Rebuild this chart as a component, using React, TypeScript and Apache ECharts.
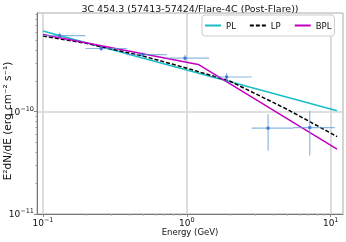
import React, { useEffect, useRef } from "react";
import * as echarts from "echarts";

// Measured SED points (GeV, erg cm^-2 s^-1)
const energy = [0.1307, 0.254, 0.494, 0.971, 1.89, 3.67, 7.15];
const flux = [5.52e-10, 4.14e-10, 3.6e-10, 3.33e-10, 2.18e-10, 6.9e-11, 6.99e-11];
const energyLow = [0.1, 0.197, 0.383, 0.725, 1.447, 2.82, 5.48];
const energyHigh = [0.197, 0.383, 0.725, 1.43, 2.82, 5.48, 10.66];
const fluxLow = [5.2e-10, 3.9e-10, 3.4e-10, 3.1e-10, 1.97e-10, 4.16e-11, 3.72e-11];
const fluxHigh = [5.9e-10, 4.35e-10, 3.8e-10, 3.6e-10, 2.38e-10, 9.45e-11, 1.02e-10];

// Model curves
const plEnergy = [0.1, 11.06];
const plFlux = [6.13e-10, 1.02e-10];
const lpEnergy = [0.1, 0.2, 0.5, 1, 2, 5, 11.06];
const lpFlux = [5.48e-10, 4.65e-10, 3.48e-10, 2.66e-10, 1.98e-10, 1.05e-10, 5.71e-11];
const bplEnergy = [0.1, 1.2, 11.06];
const bplFlux = [5.68e-10, 2.89e-10, 4.3e-11];

// Axes
const xMajor = [0.1, 1, 10];
const xMinor = [0.2, 0.3, 0.4, 0.5, 0.6, 0.7, 0.8, 0.9, 2, 3, 4, 5, 6, 7, 8, 9];
const yMajor = [1e-11, 1e-10];
const yMinor = [2e-11, 3e-11, 4e-11, 5e-11, 6e-11, 7e-11, 8e-11, 9e-11, 2e-10, 3e-10, 4e-10, 5e-10, 6e-10, 7e-10, 8e-10, 9e-10];
const xMin = 0.0909;
const xMax = 12.17;
const yMin = 1e-11;
const yMax = 9.2e-10;

const titleText = "3C 454.3 (57413-57424/Flare-4C (Post-Flare))";
const xName = "Energy (GeV)";
const yName = "E²dN/dE (erg cm⁻² s⁻¹)";

const FONT = "DejaVu Sans";

const powLabel = (v: number) => {
  const n = Math.round(Math.log10(v));
  if (Math.abs(Math.log10(v) - n) > 1e-6) return "";
  const s = n < 0 ? "−" + Math.abs(n) : String(n);
  return `{b|10}{s|${s}}`;
};

const richLabel = {
  b: { fontSize: 9, fontFamily: FONT, color: "#111" },
  s: { fontSize: 6.5, fontFamily: FONT, color: "#111", padding: [0, 0, 6, 0] },
};

export default function App() {
  const ref = useRef<HTMLDivElement>(null);
  useEffect(() => {
    if (!ref.current) return;
    const chart = echarts.init(ref.current, undefined, { renderer: "svg" });
    const errData = energy.map((e, i) => [e, flux[i], energyLow[i], energyHigh[i], fluxLow[i], fluxHigh[i]]);
    const grid = { left: 37, right: 3, top: 13, bottom: 28, show: true, borderColor: "#aaa", borderWidth: 1 };
    chart.setOption({
      animation: false,
      grid,
      graphic: [
        {
          type: "text",
          x: 190,
          y: 8.5,
          style: { text: titleText, align: "center", verticalAlign: "middle", font: `9.5px ${FONT}`, fill: "#111" },
        },
        {
          type: "text",
          x: 190,
          y: 232,
          style: { text: xName, align: "center", verticalAlign: "middle", font: `8.5px ${FONT}`, fill: "#111" },
        },
        {
          type: "text",
          x: 7,
          y: 121,
          rotation: Math.PI / 2,
          style: { text: yName, align: "center", verticalAlign: "middle", font: `10.5px ${FONT}`, fill: "#111" },
        },
      ],
      legend: {
        left: 202,
        top: 15,
        orient: "horizontal",
        itemWidth: 16,
        itemHeight: 8,
        itemGap: 13,
        padding: [6, 3, 6, 2],
        borderColor: "#ccc",
        borderWidth: 1,
        borderRadius: 3,
        backgroundColor: "rgba(255,255,255,0.85)",
        itemStyle: { opacity: 0 },
        textStyle: { fontSize: 8.5, fontFamily: FONT, color: "#111", padding: [0, 0, 0, 0] },
        data: ["PL", "LP", "BPL"],
      },
      xAxis: [
        {
          type: "log",
          logBase: 10,
          min: xMin,
          max: xMax,
          axisLine: { show: true, lineStyle: { color: "#777", width: 1 } },
          axisTick: { show: true, length: 3, lineStyle: { color: "#888" }, customValues: xMajor },
          axisLabel: {
            show: true,
            margin: 2,
            customValues: xMajor,
            formatter: powLabel,
            rich: richLabel,
          },
          splitLine: { show: true, lineStyle: { color: "#d4d4d4", width: 1.6 } },
          minorTick: { show: false },
        },
        {
          type: "log",
          logBase: 10,
          min: xMin,
          max: xMax,
          position: "bottom",
          axisLine: { show: false },
          axisTick: { show: true, length: 1.8, lineStyle: { color: "#aaa" }, customValues: xMinor },
          axisLabel: { show: false },
          splitLine: { show: false },
        },
      ],
      yAxis: [
        {
          type: "log",
          logBase: 10,
          min: yMin,
          max: yMax,
          axisLine: { show: true, lineStyle: { color: "#777", width: 1 } },
          axisTick: { show: true, length: 3, lineStyle: { color: "#888" }, customValues: yMajor },
          axisLabel: {
            show: true,
            margin: 3,
            customValues: yMajor,
            formatter: powLabel,
            rich: richLabel,
          },
          splitLine: { show: true, lineStyle: { color: "#d4d4d4", width: 1.6 } },
        },
        {
          type: "log",
          logBase: 10,
          min: yMin,
          max: yMax,
          position: "left",
          axisLine: { show: false },
          axisTick: { show: true, length: 1.8, lineStyle: { color: "#aaa" }, customValues: yMinor },
          axisLabel: { show: false },
          splitLine: { show: false },
        },
      ],
      series: [
        {
          name: "PL",
          type: "line",
          symbol: "none",
          data: plEnergy.map((e, i) => [e, plFlux[i]]),
          lineStyle: { color: "#17bfc4", width: 1.5 },
          itemStyle: { color: "#17bfc4" },
          z: 3,
        },
        {
          name: "LP",
          type: "line",
          symbol: "none",
          data: lpEnergy.map((e, i) => [e, lpFlux[i]]),
          lineStyle: { color: "#000", width: 1.5, type: [4, 2] },
          itemStyle: { color: "#000" },
          z: 4,
        },
        {
          name: "BPL",
          type: "line",
          symbol: "none",
          data: bplEnergy.map((e, i) => [e, bplFlux[i]]),
          lineStyle: { color: "#c000c0", width: 1.5 },
          itemStyle: { color: "#c000c0" },
          z: 5,
        },
        {
          name: "err",
          type: "custom",
          data: errData,
          encode: { x: 0, y: 1 },
          z: 6,
          renderItem: (params: any, api: any) => {
            const y = api.value(1);
            const x = api.value(0);
            const a = api.coord([api.value(2), y]);
            const b = api.coord([api.value(3), y]);
            const c = api.coord([x, api.value(4)]);
            const d = api.coord([x, api.value(5)]);
            const st = { stroke: "#5b9bd5", lineWidth: 1.2, opacity: 0.7 };
            return {
              type: "group",
              children: [
                { type: "line", shape: { x1: a[0], y1: a[1], x2: b[0], y2: b[1] }, style: st },
                { type: "line", shape: { x1: c[0], y1: c[1], x2: d[0], y2: d[1] }, style: st },
              ],
            };
          },
        },
        {
          name: "pts",
          type: "scatter",
          symbol: "rect",
          symbolSize: 3,
          data: energy.map((e, i) => [e, flux[i]]),
          itemStyle: { color: "#2a66d2" },
          z: 7,
        },
      ],
    });
    return () => chart.dispose();
  }, []);
  return <div ref={ref} style={{ position: "fixed", left: 0, top: 0, width: 346, height: 242 }} />;
}
